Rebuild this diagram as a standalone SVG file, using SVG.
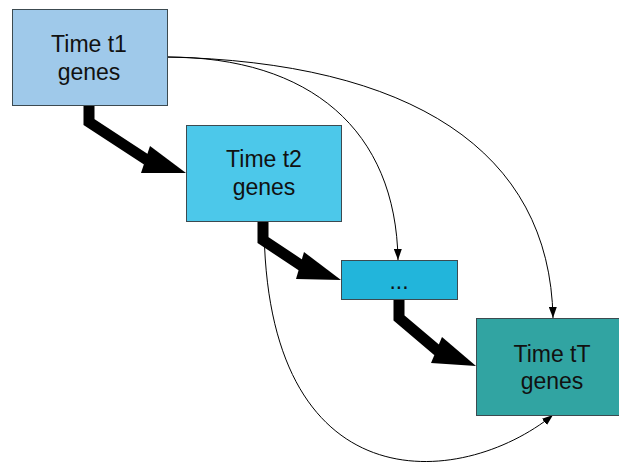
<svg xmlns="http://www.w3.org/2000/svg" width="619" height="462" viewBox="0 0 619 462">
<defs>
<marker id="ah" markerWidth="12" markerHeight="8" refX="11" refY="4" orient="auto" markerUnits="userSpaceOnUse">
<path d="M0,0 L11,4 L0,8 Z" fill="#000"/>
</marker>
<style>
.box{stroke:#3c4a50;stroke-width:1}
.lbl{font-family:"Liberation Sans",Arial,sans-serif;font-size:23px;fill:#111;text-anchor:middle}
.thick{fill:none;stroke:#000;stroke-width:11;stroke-linejoin:miter}
.thin{fill:none;stroke:#000;stroke-width:1}
</style>
</defs>
<rect width="619" height="462" fill="#fff"/>
<g id="connectors">
<path class="thick" d="M89,106 L89,122 L147,160"/>
<polygon points="186,173 141,173 150,146" fill="#000"/>
<path class="thick" d="M263,221 L263,240 L302,266"/>
<polygon points="341,280 296,279 304,252" fill="#000"/>
<path class="thick" d="M399,299 L399,318 L438,351"/>
<polygon points="476,366 431,363 442,337" fill="#000"/>
<path class="thin" d="M167,57 C310,57 396,130 398,260" marker-end="url(#ah)"/>
<path class="thin" d="M167,57 C410,62 550,150 553,318" marker-end="url(#ah)"/>
<path class="thin" d="M264,221 C264,505 460,490 553,415" marker-end="url(#ah)"/>
</g>
<g id="n1">
<rect class="box" x="12.5" y="9.5" width="155" height="96" fill="#9fc9ea"/>
<text class="lbl" x="89" y="52">Time t1</text>
<text class="lbl" x="89" y="80">genes</text>
</g>
<g id="n2">
<rect class="box" x="186.5" y="125.5" width="155" height="96" fill="#4cc8ea"/>
<text class="lbl" x="264" y="167">Time t2</text>
<text class="lbl" x="264" y="195">genes</text>
</g>
<g id="n3">
<rect class="box" x="341.5" y="260.5" width="116" height="39" fill="#22b5db"/>
<text class="lbl" x="399" y="289">...</text>
</g>
<g id="n4">
<rect class="box" x="476.5" y="318.5" width="152" height="97" fill="#31a4a2"/>
<text class="lbl" x="552" y="362">Time tT</text>
<text class="lbl" x="552" y="389">genes</text>
</g>
</svg>
